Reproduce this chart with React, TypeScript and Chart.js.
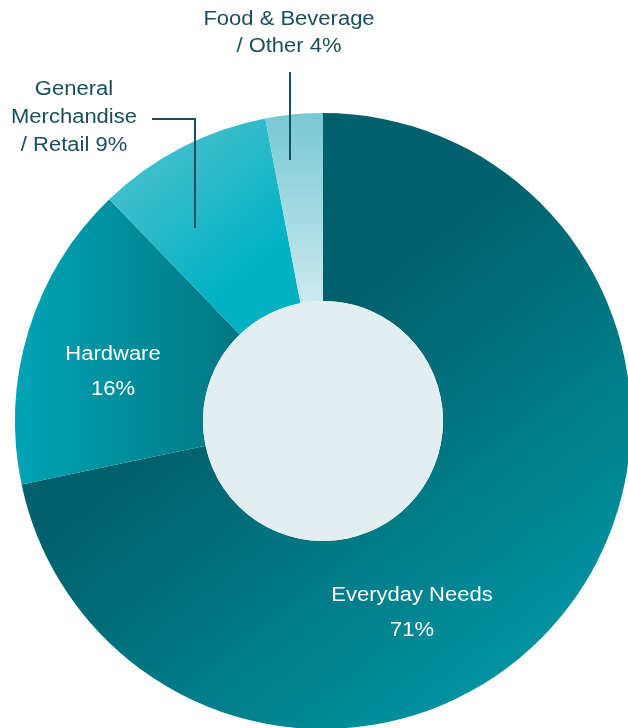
import React, { useEffect, useRef } from "react";
import { Chart, registerables } from "chart.js";

Chart.register(...registerables);

// ---- data ----
const categories = ["Everyday Needs", "Hardware", "General Merchandise / Retail", "Food & Beverage / Other"];
const shares = [71.7, 16.1, 9.2, 3.0];
const shareLabels = ["71%", "16%", "9%", "4%"];
const insideLabelLines = [["Everyday Needs", "71%"], ["Hardware", "16%"]];
const outsideLabelLines = [["General", "Merchandise", "/ Retail 9%"], ["Food & Beverage", "/ Other 4%"]];

const FONT = '"Liberation Sans", Arial, Helvetica, sans-serif';
const TEXT_DARK = "#174f5a";
const X_STRETCH = 1.1;

export default function App() {
  const ref = useRef<HTMLCanvasElement>(null);

  useEffect(() => {
    const canvas = ref.current;
    if (!canvas) return;

    const geom = (chart: any) => {
      const a = chart.chartArea;
      const cx = (a.left + a.right) / 2;
      const cy = (a.top + a.bottom) / 2;
      const r = Math.min(a.right - a.left, a.bottom - a.top) / 2;
      return { cx, cy, r };
    };

    const grad = (chart: any, i: number) => {
      const c = chart.ctx;
      if (!chart.chartArea) return "#007985";
      const { cx, cy } = geom(chart);
      let g: CanvasGradient;
      if (i === 0) {
        g = c.createLinearGradient(cx - 20, cy - 90, cx + 270, cy + 280);
        g.addColorStop(0, "#00606b");
        g.addColorStop(1, "#009cab");
      } else if (i === 1) {
        g = c.createLinearGradient(cx - 305, cy, cx - 90, cy);
        g.addColorStop(0, "#00a3b4");
        g.addColorStop(1, "#007884");
      } else if (i === 2) {
        g = c.createLinearGradient(cx - 180, cy - 290, cx - 70, cy - 150);
        g.addColorStop(0, "#4cc0cd");
        g.addColorStop(1, "#00b2c4");
      } else {
        g = c.createLinearGradient(cx, cy - 308, cx, cy - 120);
        g.addColorStop(0, "#76c8d3");
        g.addColorStop(1, "#cbe9ef");
      }
      return g;
    };

    const drawText = (c: CanvasRenderingContext2D, t: string, x: number, y: number) => {
      c.save();
      c.translate(x, y);
      c.scale(X_STRETCH, 1);
      c.fillText(t, 0, 0);
      c.restore();
    };

    const overlay = {
      id: "overlay",
      afterDatasetsDraw(chart: any) {
        const c = chart.ctx as CanvasRenderingContext2D;
        const { cx, cy } = geom(chart);
        const inner = chart.getDatasetMeta(0).data[0].innerRadius;
        c.save();
        // inner disc
        c.beginPath();
        c.arc(cx, cy, inner, 0, Math.PI * 2);
        c.fillStyle = "#e2eef0";
        c.fill();

        c.font = `20px ${FONT}`;
        c.textAlign = "center";
        c.textBaseline = "middle";

        // inside labels
        c.fillStyle = "#ffffff";
        const insidePos = [
          { x: cx + 89, y: cy + 174 },
          { x: cx - 210, y: cy - 67 },
        ];
        insideLabelLines.forEach((lines, k) => {
          lines.forEach((t, j) => drawText(c, t, insidePos[k].x, insidePos[k].y + j * 35));
        });

        // outside labels
        c.fillStyle = TEXT_DARK;
        const outsidePos = [
          { x: cx - 249, y: cy - 332, lh: 28 },
          { x: cx - 34, y: cy - 402, lh: 27 },
        ];
        outsideLabelLines.forEach((lines, k) => {
          lines.forEach((t, j) => drawText(c, t, outsidePos[k].x, outsidePos[k].y + j * outsidePos[k].lh));
        });

        // leader lines
        c.strokeStyle = TEXT_DARK;
        c.lineWidth = 2;
        c.beginPath();
        c.moveTo(cx - 171, cy - 302);
        c.lineTo(cx - 128, cy - 302);
        c.lineTo(cx - 128, cy - 193);
        c.stroke();
        c.beginPath();
        c.moveTo(cx - 33, cy - 349);
        c.lineTo(cx - 33, cy - 261);
        c.stroke();
        c.restore();
      },
    };

    const chart = new Chart(canvas, {
      type: "doughnut",
      data: {
        labels: categories,
        datasets: [
          {
            data: shares,
            backgroundColor: (ctx: any) => grad(ctx.chart, ctx.dataIndex),
            borderWidth: 0,
            hoverOffset: 0,
          },
        ],
      },
      options: {
        responsive: false,
        animation: false,
        cutout: 120,
        layout: { padding: { left: 15, top: 113, right: 9, bottom: 11 } },
        plugins: {
          legend: { display: false },
          tooltip: { enabled: false },
        },
      },
      plugins: [overlay],
    });
    (chart as any)._shareLabels = shareLabels;

    return () => chart.destroy();
  }, []);

  return (
    <div style={{ position: "absolute", left: 0, top: 0, width: 628, height: 728, overflow: "hidden", background: "#ffffff" }}>
      <canvas ref={ref} width={640} height={740} style={{ display: "block" }} />
    </div>
  );
}
